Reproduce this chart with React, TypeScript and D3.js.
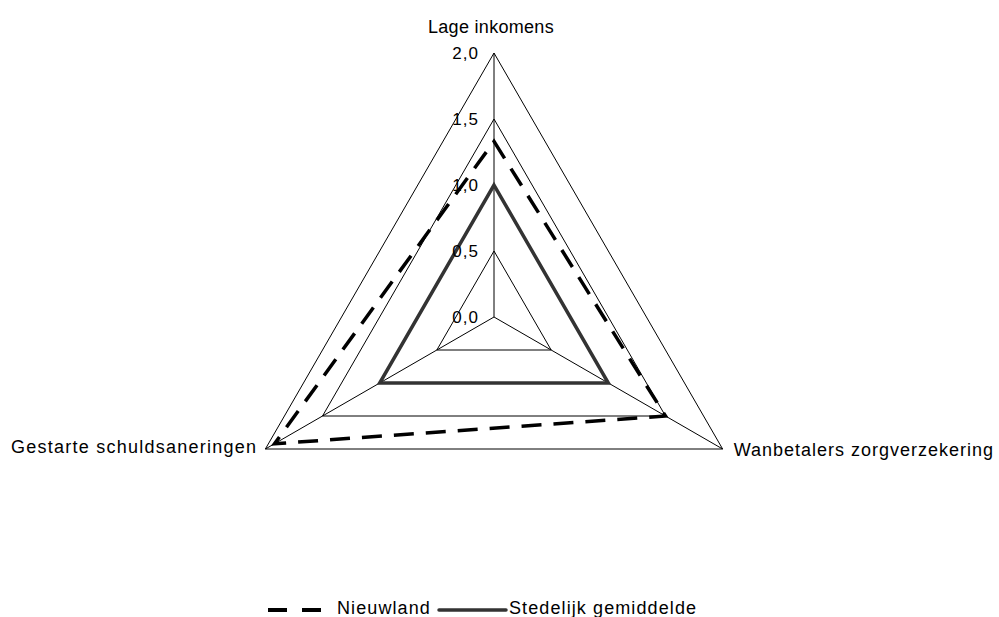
import React from "react";
import * as d3 from "d3";

// axes, clockwise starting from the top
const categories = ["Lage inkomens", "Wanbetalers zorgverzekering", "Gestarte schuldsaneringen"];
const nieuwland = [1.33, 1.5, 1.92];
const stedelijk = [1.0, 1.0, 1.0];
const ticks = [0, 0.5, 1.0, 1.5, 2.0];
const seriesNames = ["Nieuwland", "Stedelijk gemiddelde"];

const W = 999;
const H = 617;
const cx = 494;
const cy = 317;

const nl = d3.formatLocale({ decimal: ",", thousands: ".", grouping: [3], currency: ["€", ""] });
const fmt = nl.format(".1f");

const App = () => {
  const r = d3.scaleLinear().domain([0, 2]).range([0, 264]);
  const angle = (i: number) => (i * 2 * Math.PI) / categories.length;
  const pt = (i: number, v: number): [number, number] => [
    cx + r(v) * Math.sin(angle(i)),
    cy - r(v) * Math.cos(angle(i)),
  ];

  const radial = d3
    .lineRadial<number>()
    .angle((_, i) => angle(i))
    .radius((d) => r(d))
    .curve(d3.curveLinearClosed);

  const font = "'Liberation Sans', Arial, sans-serif";
  const [lx, ly] = pt(0, 2);
  const [wx, wy] = pt(1, 2);
  const [gx, gy] = pt(2, 2);

  return (
    <svg width={W} height={H} style={{ position: "absolute", left: 0, top: 0, background: "#fff" }}>
      <g transform={`translate(${cx},${cy})`}>
        {/* grid triangles */}
        {ticks.slice(1).map((t) => (
          <path key={t} d={radial(categories.map(() => t)) as string} fill="none" stroke="#000" strokeWidth={1} />
        ))}
        {/* spokes */}
        {categories.map((c, i) => {
          const [x, y] = pt(i, 2);
          return <line key={c} x1={0} y1={0} x2={x - cx} y2={y - cy} stroke="#000" strokeWidth={1} />;
        })}
        <path d={radial(stedelijk) as string} fill="none" stroke="#333" strokeWidth={3.5} strokeLinejoin="miter" />
        <path
          d={radial(nieuwland) as string}
          fill="none"
          stroke="#000"
          strokeWidth={3.5}
          strokeDasharray="20 12"
        />
      </g>

      {/* radial tick labels */}
      {ticks.map((t) => (
        <text
          key={t}
          x={479}
          y={cy - r(t)}
          textAnchor="end"
          dominantBaseline="central"
          fontFamily={font}
          fontSize={17}
          letterSpacing={1}
          fill="#000"
        >
          {fmt(t)}
        </text>
      ))}

      {/* category labels */}
      <text x={lx - 3} y={ly - 20} textAnchor="middle" fontFamily={font} fontSize={18} letterSpacing={0.3}>
        {categories[0]}
      </text>
      <text x={wx + 11} y={wy + 1} dominantBaseline="central" fontFamily={font} fontSize={18} letterSpacing={1}>
        {categories[1]}
      </text>
      <text
        x={gx - 8}
        y={gy - 2}
        textAnchor="end"
        dominantBaseline="central"
        fontFamily={font}
        fontSize={18}
        letterSpacing={1.25}
      >
        {categories[2]}
      </text>

      {/* legend */}
      <g fontFamily={font} fontSize={18} letterSpacing={1.1}>
        <line x1={268} x2={325} y1={610} y2={610} stroke="#000" strokeWidth={4} strokeDasharray="19 15" />
        <text x={337} y={614}>
          {seriesNames[0]}
        </text>
        <line x1={439} x2={506} y1={610} y2={610} stroke="#333" strokeWidth={3.5} strokeLinecap="round" />
        <text x={509} y={614}>
          {seriesNames[1]}
        </text>
      </g>
    </svg>
  );
};

export default App;
